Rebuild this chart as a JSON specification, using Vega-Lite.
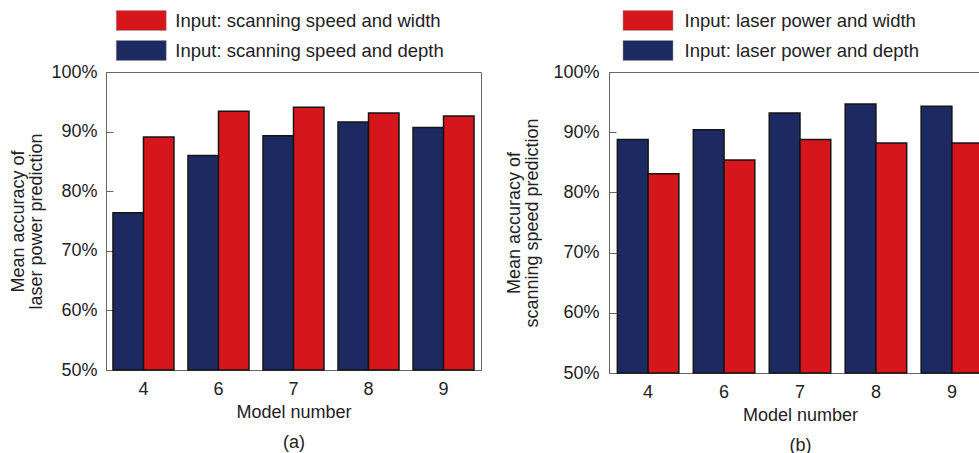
{
  "$schema": "https://vega.github.io/schema/vega-lite/v6.json",
  "padding": {"left": 9, "top": 9, "right": 0, "bottom": 0},
  "background": "white",
  "config": {
    "font": "Liberation Sans",
    "view": {"stroke": "#666", "strokeWidth": 1},
    "axis": {
      "labelFont": "Liberation Sans",
      "titleFont": "Liberation Sans",
      "labelColor": "#222",
      "titleColor": "#222",
      "titleFontWeight": "normal",
      "domainColor": "#666",
      "tickColor": "#666",
      "grid": false
    },
    "legend": {
      "symbolType": "M-2.5,-1H2.5V1H-2.5Z",
      "symbolSize": 400,
      "symbolStrokeColor": "#999",
      "symbolStrokeWidth": 0.5,
      "labelFont": "Liberation Sans",
      "labelFontSize": 18.5,
      "labelColor": "#222",
      "labelLimit": 400,
      "rowPadding": 7,
      "padding": 0
    }
  },
  "datasets": {
    "a": [
      {"model": 4, "series": "Input: scanning speed and depth", "acc": 76.4},
      {"model": 4, "series": "Input: scanning speed and width", "acc": 89.1},
      {"model": 6, "series": "Input: scanning speed and depth", "acc": 86.0},
      {"model": 6, "series": "Input: scanning speed and width", "acc": 93.4},
      {"model": 7, "series": "Input: scanning speed and depth", "acc": 89.3},
      {"model": 7, "series": "Input: scanning speed and width", "acc": 94.1},
      {"model": 8, "series": "Input: scanning speed and depth", "acc": 91.6},
      {"model": 8, "series": "Input: scanning speed and width", "acc": 93.1},
      {"model": 9, "series": "Input: scanning speed and depth", "acc": 90.7},
      {"model": 9, "series": "Input: scanning speed and width", "acc": 92.6}
    ],
    "b": [
      {"model": 4, "series": "Input: laser power and depth", "acc": 88.8},
      {"model": 4, "series": "Input: laser power and width", "acc": 83.1},
      {"model": 6, "series": "Input: laser power and depth", "acc": 90.4},
      {"model": 6, "series": "Input: laser power and width", "acc": 85.4},
      {"model": 7, "series": "Input: laser power and depth", "acc": 93.2},
      {"model": 7, "series": "Input: laser power and width", "acc": 88.8},
      {"model": 8, "series": "Input: laser power and depth", "acc": 94.7},
      {"model": 8, "series": "Input: laser power and width", "acc": 88.2},
      {"model": 9, "series": "Input: laser power and depth", "acc": 94.3},
      {"model": 9, "series": "Input: laser power and width", "acc": 88.2}
    ]
  },
  "spacing": 23,
  "resolve": {
    "scale": {"color": "independent", "x": "independent", "y": "independent", "xOffset": "independent"},
    "legend": {"color": "independent"}
  },
  "hconcat": [
    {
      "width": 375,
      "height": 298,
      "data": {"name": "a"},
      "mark": {"type": "bar", "stroke": "#151515", "strokeWidth": 1.5},
      "encoding": {
        "x": {
          "field": "model", "type": "ordinal",
          "scale": {"paddingInner": 0.187, "paddingOuter": 0.093},
          "axis": {"title": ["Model number", "(a)"], "labelAngle": 0, "ticks": false, "labelFontSize": 18, "labelPadding": 10, "titleFontSize": 18, "titlePadding": 5, "titleLineHeight": 30}
        },
        "xOffset": {"field": "series", "type": "nominal", "sort": ["Input: scanning speed and depth", "Input: scanning speed and width"]},
        "y": {
          "field": "acc", "type": "quantitative",
          "scale": {"domain": [50, 100]},
          "axis": {"title": ["Mean accuracy of", "laser power prediction"], "values": [50, 60, 70, 80, 90, 100], "labelExpr": "datum.value + '%'", "tickSize": -7, "labelPadding": 16, "labelFontSize": 18, "titleFontSize": 18, "titleLineHeight": 18, "titlePadding": 5}
        },
        "y2": {"datum": 50},
        "color": {
          "field": "series", "type": "nominal",
          "scale": {"domain": ["Input: scanning speed and width", "Input: scanning speed and depth"], "range": ["#d5171d", "#1d2a61"]},
          "legend": {"title": null, "orient": "none", "legendX": 24.75, "legendY": -62, "labelOffset": 23.5}
        }
      }
    },
    {
      "width": 382,
      "height": 301,
      "data": {"name": "b"},
      "mark": {"type": "bar", "stroke": "#151515", "strokeWidth": 1.5},
      "encoding": {
        "x": {
          "field": "model", "type": "ordinal",
          "scale": {"paddingInner": 0.19, "paddingOuter": 0.11},
          "axis": {"title": ["Model number", "(b)"], "labelAngle": 0, "ticks": false, "labelFontSize": 18, "labelPadding": 10, "titleFontSize": 18, "titlePadding": 5, "titleLineHeight": 30}
        },
        "xOffset": {"field": "series", "type": "nominal", "sort": ["Input: laser power and depth", "Input: laser power and width"]},
        "y": {
          "field": "acc", "type": "quantitative",
          "scale": {"domain": [50, 100]},
          "axis": {"title": ["Mean accuracy of", "scanning speed prediction"], "values": [50, 60, 70, 80, 90, 100], "labelExpr": "datum.value + '%'", "tickSize": -7, "labelPadding": 17, "labelFontSize": 18, "titleFontSize": 18, "titleLineHeight": 18, "titlePadding": 11}
        },
        "y2": {"datum": 50},
        "color": {
          "field": "series", "type": "nominal",
          "scale": {"domain": ["Input: laser power and width", "Input: laser power and depth"], "range": ["#d5171d", "#1d2a61"]},
          "legend": {"title": null, "orient": "none", "legendX": 28.5, "legendY": -62, "labelOffset": 26}
        }
      }
    }
  ]
}
